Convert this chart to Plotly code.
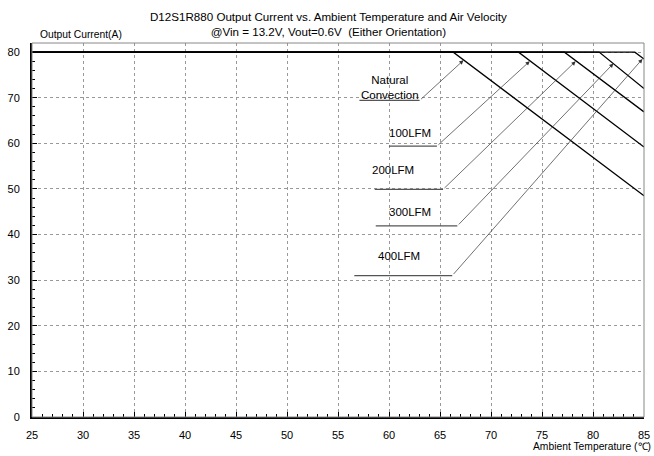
import plotly.graph_objects as go

# derating curves: flat 80A until the knee, then linear to 85C
series = ['Natural Convection', '100LFM', '200LFM', '300LFM', '400LFM']
knee_temp = [66.3, 72.7, 77.2, 80.6, 84.1]
end_current = [48.5, 59.2, 66.9, 72.0, 78.5]
t_start = 25
t_end = 85
i_max = 80

# label / leader positions (data units)
label_x = [60.1, 62.1, 60.4, 62.1, 61.0]
label_y = [72.3, 62.2, 54.1, 44.9, 35.3]
label_text = ['Natural<br>Convection', '100LFM', '200LFM', '300LFM', '400LFM']
under_x0 = [57.1, 60.0, 58.6, 58.7, 56.6]
under_x1 = [63.0, 64.7, 65.3, 66.7, 66.2]
under_y = [69.4, 59.4, 49.9, 41.9, 31.0]
tip_x = [67.3, 73.8, 78.3, 82.0, 84.85]
tip_y = [78.2, 78.0, 78.0, 77.5, 78.5]

fig = go.Figure()

for i in range(len(series)):
    fig.add_trace(go.Scatter(
        x=[t_start, knee_temp[i], t_end],
        y=[i_max, i_max, end_current[i]],
        mode='lines',
        line=dict(color='black', width=1.3),
        hoverinfo='skip'
    ))
    # underline + leader
    fig.add_trace(go.Scatter(
        x=[under_x0[i], under_x1[i]],
        y=[under_y[i], under_y[i]],
        mode='lines',
        line=dict(color='#555', width=1.3),
        hoverinfo='skip'
    ))
    fig.add_annotation(
        x=tip_x[i], y=tip_y[i], ax=under_x1[i], ay=under_y[i],
        xref='x', yref='y', axref='x', ayref='y',
        showarrow=True, arrowhead=2, arrowsize=1.2, arrowwidth=0.7,
        arrowcolor='#333', text=''
    )
    fig.add_annotation(
        x=label_x[i], y=label_y[i], xref='x', yref='y',
        text=label_text[i], showarrow=False,
        font=dict(size=11.5, color='black', family='Liberation Sans')
    )

fig.add_annotation(
    x=0.485, y=1.0, xref='paper', yref='paper', yanchor='bottom', showarrow=False,
    text='D12S1R880 Output Current vs. Ambient Temperature and Air Velocity<br>@Vin = 13.2V, Vout=0.6V  (Either Orientation)',
    font=dict(size=11.6, color='black', family='Liberation Sans'), align='center', yshift=3
)
fig.add_annotation(
    x=0, y=1.0, xref='paper', yref='paper', xanchor='left', yanchor='bottom',
    showarrow=False, text='Output Current(A)', xshift=6, yshift=1,
    font=dict(size=10.3, color='black', family='Liberation Sans')
)
fig.add_annotation(
    x=1.0, y=0, xref='paper', yref='paper', xanchor='right', yanchor='top',
    showarrow=False, text='Ambient Temperature (℃)', yshift=-22, xshift=9,
    font=dict(size=10.3, color='black', family='Liberation Sans')
)

# thin border top/right
fig.add_shape(type='rect', xref='paper', yref='paper', x0=0, y0=0, x1=1, y1=1,
              line=dict(color='#888', width=1))

fig.update_layout(
    width=654, height=456,
    margin=dict(l=32, r=10, t=43, b=39),
    paper_bgcolor='white', plot_bgcolor='white',
    showlegend=False,
    font=dict(family='Liberation Sans', size=11, color='black'),
    xaxis=dict(
        range=[25, 85], tick0=25, dtick=5, automargin=False,
        showgrid=True, gridcolor='#999', griddash='dot', gridwidth=1,
        ticks='inside', ticklen=5, tickcolor='black', ticklabelstandoff=7,
        minor=dict(dtick=1, ticks='inside', ticklen=3, tickcolor='black', showgrid=False),
        showline=True, linecolor='black', linewidth=2, zeroline=False
    ),
    yaxis=dict(
        range=[0, 82], tick0=0, dtick=10, automargin=False,
        showgrid=True, gridcolor='#999', griddash='dot', gridwidth=1,
        ticks='inside', ticklen=5, tickcolor='black', ticklabelstandoff=8,
        minor=dict(dtick=2, ticks='inside', ticklen=3, tickcolor='black', showgrid=False),
        showline=True, linecolor='black', linewidth=2, zeroline=False
    )
)

# drop the default page margin so the 654x456 figure fills the window
fig.write_html("out.html", config={'displayModeBar': False},
               post_script="document.body.style.margin='0';document.body.style.overflow='hidden';")
